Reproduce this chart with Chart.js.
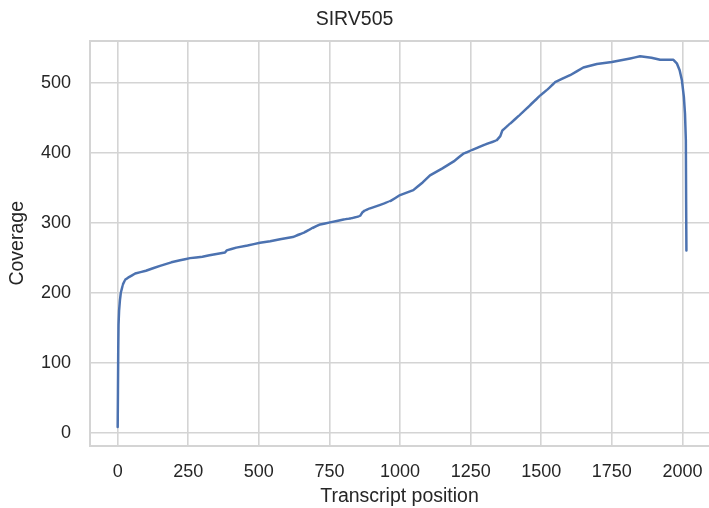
<!DOCTYPE html>
<html>
<head>
<meta charset="utf-8">
<script src="https://cdn.jsdelivr.net/npm/chart.js@4/dist/chart.umd.min.js"></script>
<style>
  html, body { margin: 0; padding: 0; background: #fff; }
  #wrap { width: 709px; height: 508px; }
</style>
</head>
<body>
<div id="wrap"><canvas id="cov" width="709" height="508"></canvas></div>
<script>
// coverage along the transcript
const positions = [0, 1, 2, 3, 5, 8, 11, 18, 26, 40, 62, 100, 150, 190, 221, 256, 300, 350, 380, 386,
  420, 460, 504, 540, 575, 620, 658, 690, 717, 752, 800, 830, 858, 866, 875, 894, 930, 964, 1000,
  1047, 1080, 1106, 1150, 1190, 1224, 1254, 1300, 1342, 1355, 1362, 1390, 1420, 1460, 1496, 1520,
  1549, 1575, 1602, 1649, 1697, 1750, 1815, 1850, 1890, 1921, 1968, 1980, 1990, 1998, 2005, 2009,
  2012, 2013, 2014];
const coverage = [9, 60, 120, 155, 175, 190, 200, 212, 219, 223, 228, 232, 239, 244, 247, 250, 252, 256, 258, 261,
  265, 268, 272, 274, 277, 280, 286, 293, 298, 301, 305, 307, 310, 315, 318, 321, 326, 331, 340,
  347, 358, 368, 378, 388, 399, 404, 412, 418, 424, 432, 442, 453, 468, 482, 490,
  501, 506, 511, 522, 527, 530, 535, 538, 536, 533, 533, 528, 518, 504, 480, 456,
  418, 330, 261];

const xTicks = [0, 250, 500, 750, 1000, 1250, 1500, 1750, 2000];
const yTicks = [0, 100, 200, 300, 400, 500];

const textColor = '#262626';
const gridColor = '#d4d4d4';
const FONT = "'Liberation Sans', Arial, sans-serif";

// top frame line (seaborn whitegrid keeps all spines)
const frame = {
    id: 'frame',
    afterDraw(chart) {
        const a = chart.chartArea;
        const ctx = chart.ctx;
        ctx.save();
        ctx.strokeStyle = gridColor;
        ctx.lineWidth = 2;
        ctx.beginPath();
        ctx.moveTo(a.left, a.top);
        ctx.lineTo(a.right + 2, a.top);
        ctx.stroke();
        ctx.restore();
    }
};

new Chart(document.getElementById('cov').getContext('2d'), {
    type: 'line',
    data: {
        datasets: [{
            label: 'SIRV505',
            data: positions.map((p, i) => ({ x: p, y: coverage[i] })),
            borderColor: '#4c72b0',
            borderWidth: 2.5,
            borderJoinStyle: 'round',
            borderCapStyle: 'round',
            pointRadius: 0,
            // tiny tension keeps lines straight but avoids the pixel-merging fast path
            tension: 0.000001,
            fill: false
        }]
    },
    options: {
        responsive: false,
        animation: false,
        layout: { padding: 0 },
        plugins: {
            legend: { display: false },
            tooltip: { enabled: false },
            title: {
                display: true,
                text: 'SIRV505',
                color: textColor,
                font: { family: FONT, size: 19.5, weight: 'normal' },
                padding: { top: 8, bottom: 9.5 }
            }
        },
        scales: {
            x: {
                type: 'linear',
                min: -98,
                max: 2094,
                afterBuildTicks: s => { s.ticks = xTicks.map(v => ({ value: v })); },
                afterFit: s => {
                    s.height = 62.3;
                    s.paddingLeft = 0;
                    s.paddingRight = 0;
                },
                ticks: {
                    color: textColor,
                    font: { family: FONT, size: 18 },
                    padding: 16,
                    maxRotation: 0,
                    autoSkip: false,
                    callback: v => String(v)
                },
                grid: { color: gridColor, lineWidth: 1.6, drawTicks: false },
                border: { color: gridColor, width: 2 },
                title: {
                    display: true,
                    text: 'Transcript position',
                    color: textColor,
                    font: { family: FONT, size: 19.5 },
                    padding: { top: 0, bottom: 0 }
                }
            },
            y: {
                min: -17.7,
                max: 560,
                afterBuildTicks: s => { s.ticks = yTicks.map(v => ({ value: v })); },
                afterFit: s => {
                    s.width = 90;
                    s.paddingTop = 0;
                    s.paddingBottom = 0;
                },
                ticks: {
                    color: textColor,
                    font: { family: FONT, size: 18 },
                    padding: 19,
                    callback: v => String(v)
                },
                grid: { color: gridColor, lineWidth: 1.6, drawTicks: false },
                border: { color: gridColor, width: 2 },
                title: {
                    display: true,
                    text: 'Coverage',
                    color: textColor,
                    font: { family: FONT, size: 19.5 },
                    padding: { top: 6, bottom: 0 }
                }
            }
        }
    },
    plugins: [frame]
});
</script>
</body>
</html>
